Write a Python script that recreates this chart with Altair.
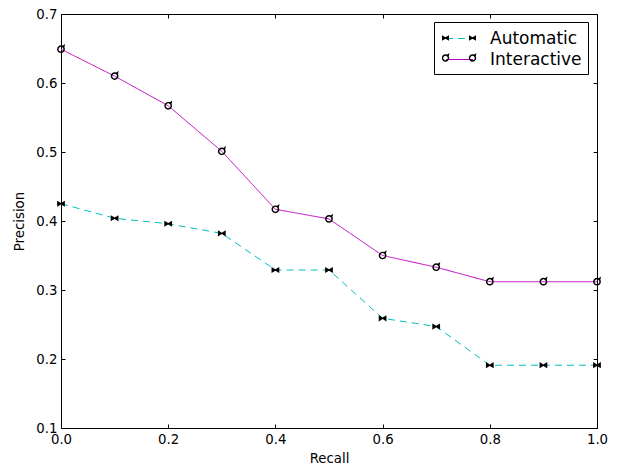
import altair as alt
import pandas as pd

recall = [0.0, 0.1, 0.2, 0.3, 0.4, 0.5, 0.6, 0.7, 0.8, 0.9, 1.0]
automatic = [0.425, 0.404, 0.396, 0.382, 0.329, 0.329, 0.259, 0.247, 0.191, 0.191, 0.191]
interactive = [0.649, 0.610, 0.567, 0.501, 0.417, 0.403, 0.350, 0.333, 0.312, 0.312, 0.312]
series_names = ["Automatic", "Interactive"]
x_ticks = [0.0, 0.2, 0.4, 0.6, 0.8, 1.0]
y_ticks = [0.1, 0.2, 0.3, 0.4, 0.5, 0.6, 0.7]

rows = []
for r, a, i in zip(recall, automatic, interactive):
    rows.append({"recall": r, "precision": a, "series": "Automatic"})
    rows.append({"recall": r, "precision": i, "series": "Interactive"})
df = pd.DataFrame(rows)


def f(v):
    return f"{v:.3f}"


def bowtie(cx, s):
    h = 0.8 * s
    b = 0.18 * s
    return (f"M{f(cx-s)},{f(-h)}L{f(cx)},{f(-b)}L{f(cx)},{f(b)}L{f(cx-s)},{f(h)}Z"
            f"M{f(cx+s)},{f(-h)}L{f(cx)},{f(-b)}L{f(cx)},{f(b)}L{f(cx+s)},{f(h)}Z")


def ring(cx, s):
    r2 = 0.62 * s
    return (f"M{f(cx+s)},0A{f(s)},{f(s)} 0 1,1 {f(cx-s)},0A{f(s)},{f(s)} 0 1,1 {f(cx+s)},0Z"
            f"M{f(cx+r2)},0A{f(r2)},{f(r2)} 0 1,0 {f(cx-r2)},0A{f(r2)},{f(r2)} 0 1,0 {f(cx+r2)},0Z"
            f"M{f(cx+0.25*s)},{f(-0.75*s)}L{f(cx+1.05*s)},{f(-1.35*s)}L{f(cx+0.9*s)},{f(-0.55*s)}Z")


L = 1.35
legend_line = f"M{-L},0L{L},0"
legend_common = dict(
    orient="none", legendX=373, legendY=8, title=None,
    symbolSize=400, labelFontSize=17, labelFont="DejaVu Sans",
    labelColor="black", labelOffset=20, padding=6, rowPadding=2,
    symbolOffset=9,
)

xs = alt.Scale(domain=[0, 1], nice=False, zero=False)
ys = alt.Scale(domain=[0.1, 0.7], nice=False, zero=False)
color_scale = alt.Scale(domain=series_names, range=["#00bfbf", "#bf00bf"])
dash_scale = alt.Scale(domain=series_names, range=[[7, 5], [1, 0]])
shape_scale = alt.Scale(domain=series_names, range=[bowtie(0, 1), ring(0, 1)])
legend_shape_scale = alt.Scale(
    domain=series_names,
    range=[bowtie(-L, 0.35) + bowtie(L, 0.35), ring(-L, 0.37) + ring(L, 0.37)],
)

label_style = dict(ticks=False, tickSize=0, domain=False, grid=False,
                   labelFontSize=13.3, labelFont="DejaVu Sans", labelColor="black",
                   labelFlush=False, labelOverlap=False, format=".1f",
                   titleFontSize=13.3, titleFont="DejaVu Sans", titleFontWeight="normal",
                   titleColor="black")
tick_style = dict(labels=False, domain=False, grid=False, ticks=True, tickSize=4,
                  offset=-4, tickColor="black", tickWidth=1, title=None)

base = alt.Chart(df)

lines = base.mark_line(strokeWidth=1).encode(
    x=alt.X("recall:Q", scale=xs,
            axis=alt.Axis(orient="bottom", values=x_ticks, labelPadding=4,
                          title="Recall", titlePadding=6, **label_style)),
    y=alt.Y("precision:Q", scale=ys,
            axis=alt.Axis(orient="left", values=y_ticks, labelPadding=4,
                          title="Precision", titlePadding=9, **label_style)),
    color=alt.Color("series:N", scale=color_scale,
                    legend=alt.Legend(symbolType=legend_line, symbolStrokeWidth=1,
                                      strokeColor="black", **legend_common)),
    strokeDash=alt.StrokeDash("series:N", scale=dash_scale, legend=alt.Legend(
        symbolType=legend_line, symbolStrokeWidth=1, strokeColor="black", **legend_common)),
    order="recall:Q",
)

points = base.mark_point(filled=True, color="black", opacity=1, size=60, strokeWidth=0).encode(
    x=alt.X("recall:Q", scale=xs, axis=None),
    y=alt.Y("precision:Q", scale=ys, axis=None),
    shape=alt.Shape("series:N", scale=shape_scale, legend=None),
)

legend_markers = base.transform_filter("false").transform_calculate(
    series2="datum.series"
).mark_point(filled=True, color="black", opacity=1, size=400, strokeWidth=0).encode(
    x=alt.X("recall:Q", scale=xs, axis=None),
    y=alt.Y("precision:Q", scale=ys, axis=None),
    shape=alt.Shape("series2:N", scale=legend_shape_scale,
                    legend=alt.Legend(labelOpacity=0, symbolFillColor="black",
                                      symbolStrokeWidth=0, **legend_common)),
)

ticks_a = base.transform_filter("false").mark_point(opacity=0).encode(
    x=alt.X("recall:Q", scale=xs, axis=alt.Axis(orient="bottom", values=x_ticks, **tick_style)),
    y=alt.Y("precision:Q", scale=ys, axis=alt.Axis(orient="left", values=y_ticks, **tick_style)),
)
ticks_b = base.transform_filter("false").mark_point(opacity=0).encode(
    x=alt.X("recall:Q", scale=xs, axis=alt.Axis(orient="top", values=x_ticks, **tick_style)),
    y=alt.Y("precision:Q", scale=ys, axis=alt.Axis(orient="right", values=y_ticks, **tick_style)),
)

chart = alt.layer(lines, points, legend_markers, ticks_a, ticks_b).resolve_scale(
    shape="independent"
).resolve_axis(
    x="independent", y="independent"
).properties(
    width=536, height=414,
    autosize=alt.AutoSizeParams(type="none"),
    padding={"left": 53, "top": 6, "right": 20, "bottom": 38},
    background="white",
).configure_view(stroke="black", strokeWidth=1)

chart.save("out.html", embed_options={"renderer": "svg", "actions": False})
